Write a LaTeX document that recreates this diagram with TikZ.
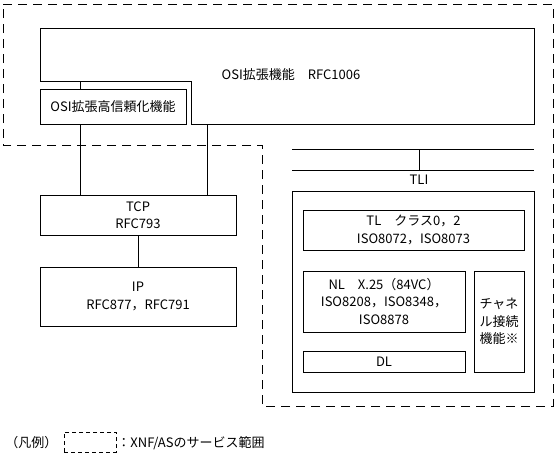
\documentclass[tikz,border=0pt]{standalone}
\usepackage{fontspec}
\setmainfont{Noto Sans CJK JP}
\begin{document}
\begin{tikzpicture}[x=1pt,y=-1pt,line width=0.8pt,
  box/.style={draw,inner sep=0pt,align=center},
  lbl/.style={inner sep=0pt,align=center},
  outline/.style={dash pattern=on 9pt off 6pt},
  font=\fontsize{13}{17.5}\selectfont]
\useasboundingbox (0,0) rectangle (556,461);
% service range outline
\draw[outline] (3,4) -- (553,4) -- (553,406) -- (262,406) -- (262,145) -- (3,145) -- cycle;
% OSI extension box (notched)
\draw (40,28) -- (534,28) -- (534,124) -- (191,124) -- (191,81) -- (40,81) -- cycle;
\node[lbl] (osi) at (291,75) {OSI拡張機能　RFC1006};
\coordinate (osiA) at (80,81);
\coordinate (osiB) at (207,124);
\node[box,minimum width=146pt,minimum height=35pt] (rel) at (113,106.5) {OSI拡張高信頼化機能};
\node[box,minimum width=196pt,minimum height=40pt] (tcp) at (138,215) {TCP\\RFC793};
\node[box,minimum width=196pt,minimum height=59pt] (ip) at (138,296.5) {IP\\RFC877，RFC791};
\draw (osiA) -- (osiA |- rel.north);
\draw (rel.south -| osiA) -- (tcp.north -| osiA);
\draw (osiB) -- (osiB |- tcp.north);
\draw (tcp.south) -- (ip.north);
% TLI
\coordinate (t1l) at (292,149);
\coordinate (t1r) at (534,149);
\coordinate (t2l) at (292,170);
\coordinate (t2r) at (534,170);
\coordinate (tv) at (419,149);
\draw (t1l) -- (t1r);
\draw (t2l) -- (t2r);
\draw (tv) -- (tv |- t2l);
\node[lbl] (tlilbl) at (419,180) {TLI};
\node[box,minimum width=242pt,minimum height=201pt] (tli) at (413,291.5) {};
\node[box,minimum width=221pt,minimum height=40pt] (tl) at (413.5,230) {TL　クラス0，2\\ISO8072，ISO8073};
\node[box,minimum width=162pt,minimum height=61pt] (nl) at (384,301.5) {NL　X.25（84VC）\\ISO8208，ISO8348，\\ISO8878};
\node[box,minimum width=50pt,minimum height=101pt] (ch) at (499,321.5) {チャネ\\ル接続\\機能※};
\node[box,minimum width=162pt,minimum height=21pt] (dl) at (384,361.5) {DL};
% legend
\node[lbl,anchor=west] (leg) at (5,443) {（凡例）};
\node[draw,dash pattern=on 4pt off 3pt,minimum width=52pt,minimum height=20pt,inner sep=0pt] (legbox) at (90,442) {};
\node[lbl,anchor=west] (legtxt) at (117,443) {：XNF/ASのサービス範囲};
\end{tikzpicture}
\end{document}
